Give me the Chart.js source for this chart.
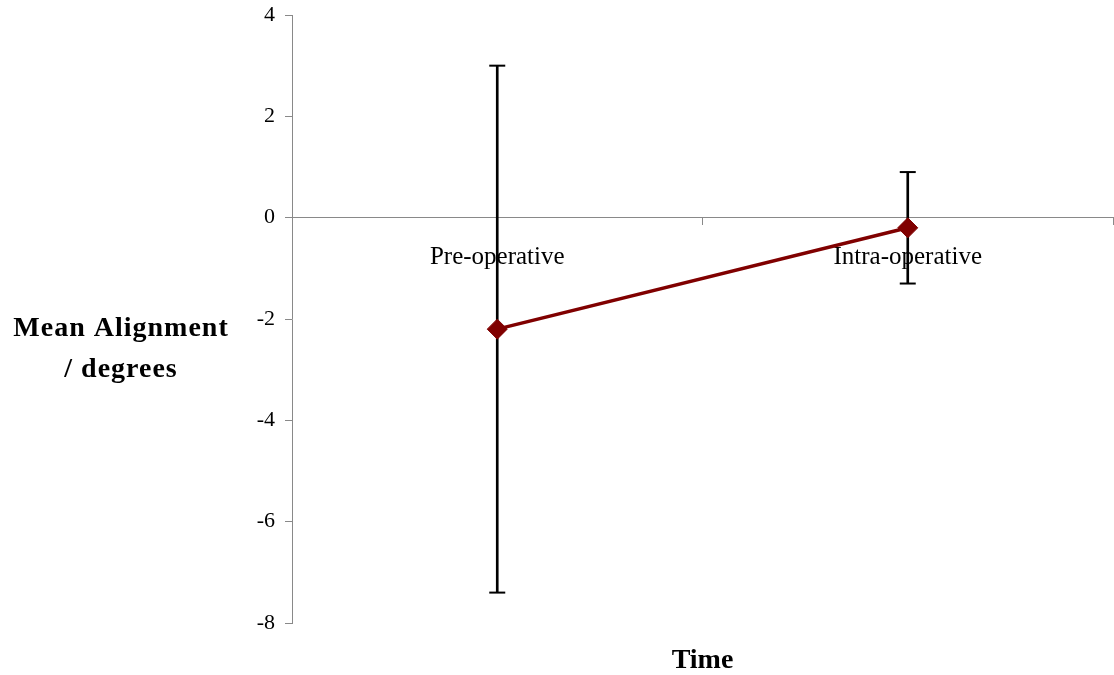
<!DOCTYPE html>
<html>
<head>
<meta charset="utf-8">
<script src="https://cdn.jsdelivr.net/npm/chart.js@4"></script>
<style>
  body { margin: 0; background: #fff; }
  #wrap { width: 1114px; height: 675px; position: relative; }
</style>
</head>
<body>
<div id="wrap"><canvas id="myChart"></canvas></div>
<script>
var categories = ['Pre-operative', 'Intra-operative'];
var meanAlignment = [-2.2, -0.2];
var errorHigh = [3.0, 0.9];
var errorLow = [-7.4, -1.3];
var yMin = -8, yMax = 4, yStep = 2;

var serif = '"Liberation Serif", "Times New Roman", serif';
var axisGrey = '#898989';

var errRange = [];
for (var i = 0; i < categories.length; i++) {
    errRange.push([errorLow[i], errorHigh[i]]);
}

// y axis title is drawn flat, in two lines, like the original
var yTitlePlugin = {
    id: 'yTitle',
    afterDraw: function (chart) {
        var ctx = chart.ctx;
        var area = chart.chartArea;
        var cx = 121;
        var cy = (area.top + area.bottom) / 2 + 30;
        ctx.save();
        ctx.fillStyle = '#000';
        ctx.font = 'bold 28px ' + serif;
        ctx.letterSpacing = '1px';
        ctx.textAlign = 'center';
        ctx.textBaseline = 'middle';
        ctx.fillText('Mean Alignment', cx, cy - 20);
        ctx.fillText('/ degrees', cx, cy + 21);
        ctx.restore();
    }
};

var ctx = document.getElementById('myChart').getContext('2d');
var myChart = new Chart(ctx, {
    data: {
        labels: categories,
        datasets: [{
            type: 'line',
            label: 'Mean',
            data: meanAlignment,
            borderColor: '#800000',
            backgroundColor: '#800000',
            borderWidth: 3.5,
            pointStyle: 'rectRot',
            pointRadius: 10,
            pointBorderWidth: 1,
            order: 0
        },
        {
            type: 'bar',
            label: 'Error',
            data: errRange,
            backgroundColor: '#000',
            barThickness: 2,
            order: 2
        },
        {
            type: 'line',
            label: 'High',
            data: errorHigh,
            showLine: false,
            pointStyle: 'line',
            pointRadius: 8,
            borderColor: '#000',
            pointBorderWidth: 2,
            order: 1
        },
        {
            type: 'line',
            label: 'Low',
            data: errorLow,
            showLine: false,
            pointStyle: 'line',
            pointRadius: 8,
            borderColor: '#000',
            pointBorderWidth: 2,
            order: 1
        }]
    },
    options: {
        responsive: true,
        maintainAspectRatio: false,
        animation: false,
        layout: { autoPadding: false, padding: { top: 15, right: 1, bottom: 0, left: 0 } },
        plugins: {
            legend: { display: false },
            tooltip: { enabled: false },
            title: {
                display: true,
                text: 'Time',
                position: 'bottom',
                fullSize: false,
                color: '#000',
                font: { family: serif, size: 28, weight: 'bold', lineHeight: 1 },
                padding: { top: 24, bottom: 0 }
            }
        },
        scales: {
            x: {
                type: 'category',
                position: { y: 0 },
                offset: true,
                grid: {
                    offset: true,
                    drawOnChartArea: false,
                    drawTicks: true,
                    tickLength: 7,
                    color: axisGrey
                },
                border: { display: true, color: axisGrey, width: 1 },
                ticks: {
                    color: '#000',
                    padding: 18,
                    font: { family: serif, size: 25 }
                }
            },
            y: {
                min: yMin,
                max: yMax,
                afterFit: function (scale) {
                    scale.width = 292;
                    scale.paddingTop = 0;
                    scale.paddingBottom = 0;
                },
                grid: {
                    drawOnChartArea: false,
                    drawTicks: true,
                    tickLength: 7,
                    color: axisGrey
                },
                border: { display: true, color: axisGrey, width: 1 },
                ticks: {
                    stepSize: yStep,
                    color: '#000',
                    padding: 10,
                    font: { family: serif, size: 22 }
                }
            }
        }
    },
    plugins: [yTitlePlugin]
});
</script>
</body>
</html>
